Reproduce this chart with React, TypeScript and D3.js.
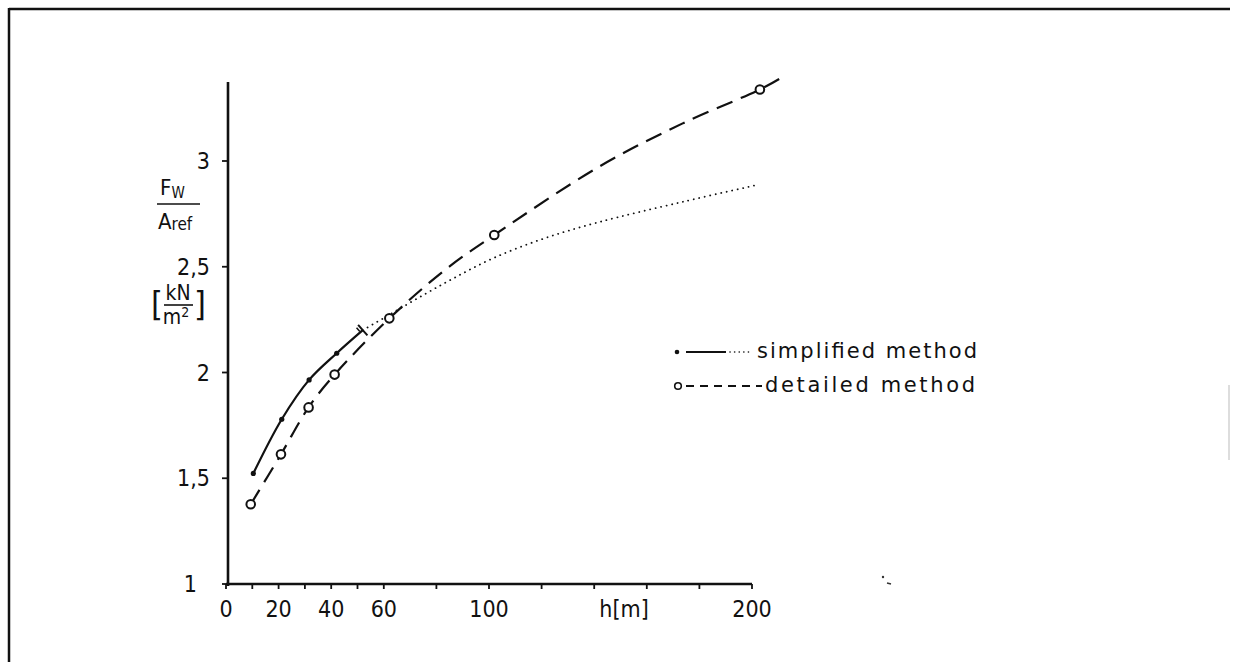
import React from "react";
import * as d3 from "d3";

// ---- data ----
const xTickValues = [0, 10, 20, 30, 40, 50, 60, 80, 100, 120, 140, 160, 180, 200];
const xTickLabels = [0, 20, 40, 60, 100, 200];
const yTickValues = [1, 1.5, 2, 2.5, 3];
const yTickLabels = ["1", "1,5", "2", "2,5", "3"];

// detailed method (open circles, dashed curve)
const detailedH = [9.4, 20.9, 31.4, 41.3, 62.1, 102, 203];
const detailedV = [1.377, 1.613, 1.835, 1.99, 2.256, 2.65, 3.338];
// dashed curve as traced (passes through the circles)
const detailedCurveH = [9.4, 20.9, 31.4, 41.3, 62.1, 84.2, 102, 142, 174, 203, 210.6];
const detailedCurveV = [1.377, 1.613, 1.835, 1.99, 2.256, 2.494, 2.65, 2.974, 3.18, 3.338, 3.39];

// simplified method (dots, solid curve then dotted)
const simplifiedH = [10.4, 21.2, 31.6, 42.1];
const simplifiedV = [1.523, 1.779, 1.965, 2.091];
const simplifiedSolidH = [10.4, 21.2, 31.6, 42.1, 52];
const simplifiedSolidV = [1.523, 1.779, 1.965, 2.091, 2.2];
const simplifiedDottedH = [52, 62, 73, 86, 101.5, 120.5, 141.5, 174, 202];
const simplifiedDottedV = [2.2, 2.272, 2.352, 2.442, 2.54, 2.632, 2.71, 2.808, 2.887];

const legendLabels = ["simplified method", "detailed method"];

const FONT = "'Liberation Sans Narrow', 'DejaVu Sans Condensed', 'Liberation Sans', Arial, sans-serif";
const LFONT = "'DejaVu Sans', 'Liberation Sans', sans-serif";

export default function App() {
  const x = d3.scaleLinear().domain([0, 200]).range([226, 752]);
  const y = d3.scaleLinear().domain([1, 3]).range([584, 161]);

  const line = d3
    .line<[number, number]>()
    .x((d) => x(d[0]))
    .y((d) => y(d[1]))
    .curve(d3.curveCatmullRom.alpha(0.5));

  const zip = (a: number[], b: number[]) => a.map((v, i) => [v, b[i]] as [number, number]);

  const solidPts = zip(simplifiedSolidH, simplifiedSolidV);
  const endPt = solidPts[solidPts.length - 1];
  const prevPt = solidPts[solidPts.length - 2];
  const ex = x(endPt[0]);
  const ey = y(endPt[1]);
  const dx = ex - x(prevPt[0]);
  const dy = ey - y(prevPt[1]);
  const len = Math.hypot(dx, dy);
  const ux = dx / len, uy = dy / len;
  const px = -uy, py = ux;

  return (
    <div style={{ position: "fixed", left: 0, top: 0 }}>
      <svg width={1238} height={662} style={{ display: "block", background: "#fff" }}>
        {/* frame */}
        <line x1={9} y1={9} x2={1230} y2={9} stroke="#111" strokeWidth={2.5} />
        <line x1={9} y1={8} x2={9} y2={662} stroke="#111" strokeWidth={2.5} />
        <line x1={1229} y1={385} x2={1229} y2={460} stroke="#ddd" strokeWidth={2} />

        {/* axes */}
        <line x1={228} y1={82} x2={228} y2={586} stroke="#111" strokeWidth={2.6} />
        <line x1={226} y1={584} x2={x(200)} y2={584} stroke="#111" strokeWidth={2.6} />
        {xTickValues.map((t) => (
          <line key={"xt" + t} x1={x(t)} y1={584} x2={x(t)} y2={589} stroke="#111" strokeWidth={1.8} />
        ))}
        {xTickLabels.map((t) => (
          <text key={"xl" + t} x={x(t)} y={617} textAnchor="middle" fontFamily={FONT} fontSize={23} fill="#111">
            {t}
          </text>
        ))}
        <text x={624} y={617} textAnchor="middle" fontFamily={FONT} fontSize={23} fill="#111">
          h[m]
        </text>

        {yTickValues.map((t) => (
          <line key={"yt" + t} x1={222} y1={y(t)} x2={228} y2={y(t)} stroke="#111" strokeWidth={1.8} />
        ))}
        {yTickValues.map((t, i) => (
          <text
            key={"yl" + t}
            x={t === 1 ? 197 : 210}
            y={y(t) + 8}
            textAnchor="end"
            fontFamily={FONT}
            fontSize={23}
            fill="#111"
          >
            {yTickLabels[i]}
          </text>
        ))}

        {/* y axis title */}
        <text x={160} y={195} fontFamily={FONT} fontSize={22} fill="#111">
          F<tspan fontSize={15} dy={3}>W</tspan>
        </text>
        <line x1={157} y1={204} x2={200} y2={204} stroke="#111" strokeWidth={1.5} />
        <text x={158} y={229} fontFamily={FONT} fontSize={22} fill="#111">
          A<tspan fontSize={17} dy={1}>ref</tspan>
        </text>
        <text x={151} y={316} fontFamily={FONT} fontSize={34} fill="#111">[</text>
        <text x={178} y={300} textAnchor="middle" fontFamily={FONT} fontSize={21} fill="#111">kN</text>
        <line x1={164} y1={305} x2={193} y2={305} stroke="#111" strokeWidth={1.6} />
        <text x={176} y={324} textAnchor="middle" fontFamily={FONT} fontSize={21} fill="#111">
          m<tspan fontSize={14} dy={-7}>2</tspan>
        </text>
        <text x={194} y={316} fontFamily={FONT} fontSize={34} fill="#111">]</text>

        {/* curves */}
        <path d={line(zip(detailedCurveH, detailedCurveV)) || ""} fill="none" stroke="#111" strokeWidth={2.2} strokeDasharray="17 9" />
        <path d={line(solidPts) || ""} fill="none" stroke="#111" strokeWidth={2.2} />
        <path
          d={line(zip(simplifiedDottedH, simplifiedDottedV)) || ""}
          fill="none"
          stroke="#111"
          strokeWidth={1.8}
          strokeDasharray="0.1 5.5"
          strokeLinecap="round"
        />
        {/* break marker at end of solid line */}
        <line x1={ex - px * 7} y1={ey - py * 7} x2={ex + px * 7} y2={ey + py * 7} stroke="#111" strokeWidth={2} />
        <line
          x1={ex - ux * 3 - px * 6}
          y1={ey - uy * 3 - py * 6}
          x2={ex - ux * 3 - px * 1}
          y2={ey - uy * 3 - py * 1}
          stroke="#111"
          strokeWidth={1.5}
        />

        {/* markers */}
        {detailedH.map((h, i) => (
          <circle key={"dc" + i} cx={x(h)} cy={y(detailedV[i])} r={4.3} fill="#fff" stroke="#111" strokeWidth={2} />
        ))}
        {simplifiedH.map((h, i) => (
          <circle key={"sd" + i} cx={x(h)} cy={y(simplifiedV[i])} r={2.6} fill="#111" />
        ))}

        {/* legend */}
        <circle cx={677} cy={352} r={2.3} fill="#111" />
        <line x1={686} y1={352} x2={726} y2={352} stroke="#111" strokeWidth={2} />
        <line x1={730} y1={352} x2={752} y2={352} stroke="#111" strokeWidth={1.6} strokeDasharray="0.1 4.5" strokeLinecap="round" />
        <text x={757} y={358} fontFamily={LFONT} fontSize={21} fill="#111" textLength={220} lengthAdjust="spacing">
          {legendLabels[0]}
        </text>
        <circle cx={678} cy={386} r={3.3} fill="#fff" stroke="#111" strokeWidth={1.6} />
        <line x1={686} y1={386} x2={762} y2={386} stroke="#111" strokeWidth={2} strokeDasharray="8 6" />
        <text x={765} y={392} fontFamily={LFONT} fontSize={21} fill="#111" textLength={210} lengthAdjust="spacing">
          {legendLabels[1]}
        </text>

        {/* scan specks */}
        <circle cx={883} cy={577} r={1.2} fill="#333" />
        <line x1={887} y1={583} x2={891} y2={584} stroke="#333" strokeWidth={1.5} />
      </svg>
    </div>
  );
}
